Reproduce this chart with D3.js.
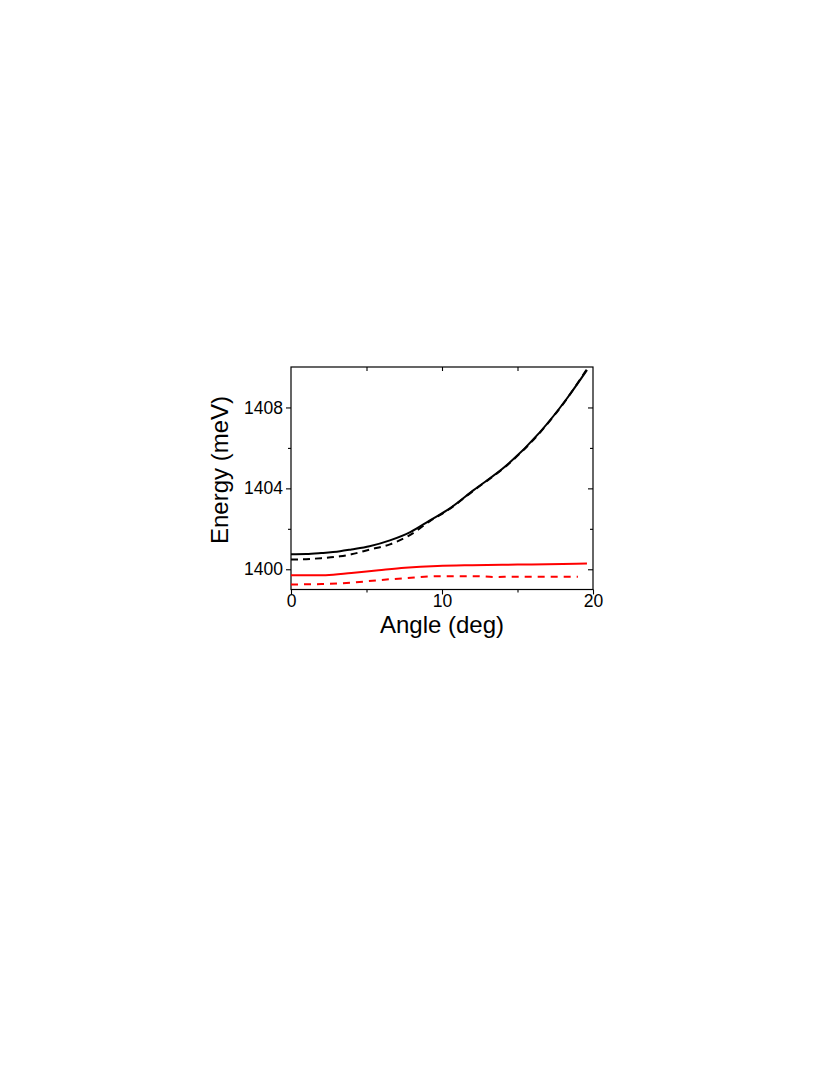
<!DOCTYPE html>
<html>
<head>
<meta charset="utf-8">
<script src="https://cdn.jsdelivr.net/npm/d3@7"></script>
<style>
  body { margin: 0; background: #fff; }
  svg { display: block; }
  text { font-family: "Liberation Sans", Arial, sans-serif; fill: #000; }
</style>
</head>
<body>
<svg id="chart" width="830" height="1075"></svg>
<script>
// ---- data ----
const xMajorTicks = [0, 10, 20];
const xMinorTicks = [5, 15];
const yMajorTicks = [1400, 1404, 1408];
const yMinorTicks = [1402, 1406];

const angleBlack = [0, 1, 2, 3.25, 4, 5.2, 6.55, 7.9, 9.2, 10.5, 12.07, 14.28, 16.49, 18.26, 19.6];
const blackSolid = [1400.74, 1400.75, 1400.80, 1400.89, 1400.98, 1401.14, 1401.43, 1401.84, 1402.42, 1403.0, 1403.9, 1405.14, 1406.78, 1408.43, 1409.85];
const blackDashed = [1400.48, 1400.50, 1400.55, 1400.64, 1400.74, 1400.97, 1401.23, 1401.70, 1402.38, 1402.98, 1403.88, 1405.12, 1406.76, 1408.42, 1409.9];

const angleRedSolid = [0, 1, 2.3, 4, 5.8, 7.55, 9.7, 12, 15, 18, 19.6];
const redSolid = [1399.70, 1399.70, 1399.71, 1399.82, 1399.95, 1400.07, 1400.16, 1400.20, 1400.23, 1400.26, 1400.28];
const angleRedDashed = [0, 2, 4, 5.8, 7.55, 9.7, 10.4, 12.3, 13.4, 15, 17, 19.0];
const redDashed = [1399.25, 1399.27, 1399.34, 1399.46, 1399.56, 1399.66, 1399.66, 1399.66, 1399.62, 1399.63, 1399.63, 1399.63];

const xLabel = "Angle (deg)";
const yLabel = "Energy (meV)";

// ---- layout ----
const L = 291, R = 593, T = 367, B = 589.5;
const svg = d3.select("#chart");
const x = d3.scaleLinear().domain([0, 20]).range([L, R]);
const y = d3.scaleLinear().domain([1399, 1410]).range([B, T]);

// frame
svg.append("rect").attr("x", L).attr("y", T).attr("width", R - L).attr("height", B - T)
  .attr("fill", "none").attr("stroke", "#000").attr("stroke-width", 1.2);

function styleAxis(g) {
  g.select(".domain").remove();
  g.selectAll(".tick line").attr("stroke", "#000").attr("stroke-width", 1.1);
}

// left axis (outward)
svg.append("g").attr("transform", `translate(${L},0)`)
  .call(d3.axisLeft(y).tickValues(yMajorTicks).tickSize(5).tickPadding(3).tickFormat(d3.format("d")))
  .call(styleAxis)
  .call(g => g.selectAll("text").attr("font-size", 17.5).attr("font-family", "Liberation Sans, Arial, sans-serif"));
svg.append("g").attr("transform", `translate(${L},0)`)
  .call(d3.axisLeft(y).tickValues(yMinorTicks).tickSize(3).tickFormat(""))
  .call(styleAxis);

// right axis (inward)
svg.append("g").attr("transform", `translate(${R},0)`)
  .call(d3.axisLeft(y).tickValues(yMajorTicks).tickSize(5).tickFormat(""))
  .call(styleAxis);
svg.append("g").attr("transform", `translate(${R},0)`)
  .call(d3.axisLeft(y).tickValues(yMinorTicks).tickSize(3).tickFormat(""))
  .call(styleAxis);

// bottom axis (outward)
svg.append("g").attr("transform", `translate(0,${B})`)
  .call(d3.axisBottom(x).tickValues(xMajorTicks).tickSize(5).tickPadding(0).tickFormat(d3.format("d")))
  .call(styleAxis)
  .call(g => g.selectAll("text").attr("font-size", 17.5).attr("font-family", "Liberation Sans, Arial, sans-serif"));
svg.append("g").attr("transform", `translate(0,${B})`)
  .call(d3.axisBottom(x).tickValues(xMinorTicks).tickSize(3).tickFormat(""))
  .call(styleAxis);

// top axis (inward)
svg.append("g").attr("transform", `translate(0,${T})`)
  .call(d3.axisBottom(x).tickValues([5, 10, 15]).tickSize(4).tickFormat(""))
  .call(styleAxis);

// lines
const line = d3.line().x(d => x(d[0])).y(d => y(d[1])).curve(d3.curveMonotoneX);
function series(xs, ys, color, dash) {
  svg.append("path")
    .datum(xs.map((v, i) => [v, ys[i]]))
    .attr("d", line)
    .attr("fill", "none")
    .attr("stroke", color)
    .attr("stroke-width", 2)
    .attr("stroke-dasharray", dash);
}
series(angleBlack, blackDashed, "#000", "7,5");
series(angleBlack, blackSolid, "#000", null);
series(angleRedSolid, redSolid, "#ff0000", null);
series(angleRedDashed, redDashed, "#ff0000", "7,6");

// axis titles
svg.append("text").attr("x", (L + R) / 2).attr("y", 633)
  .attr("text-anchor", "middle").attr("font-size", 24).text(xLabel);
svg.append("text").attr("transform", `translate(228,470) rotate(-90)`)
  .attr("text-anchor", "middle").attr("font-size", 24).text(yLabel);
</script>
</body>
</html>
